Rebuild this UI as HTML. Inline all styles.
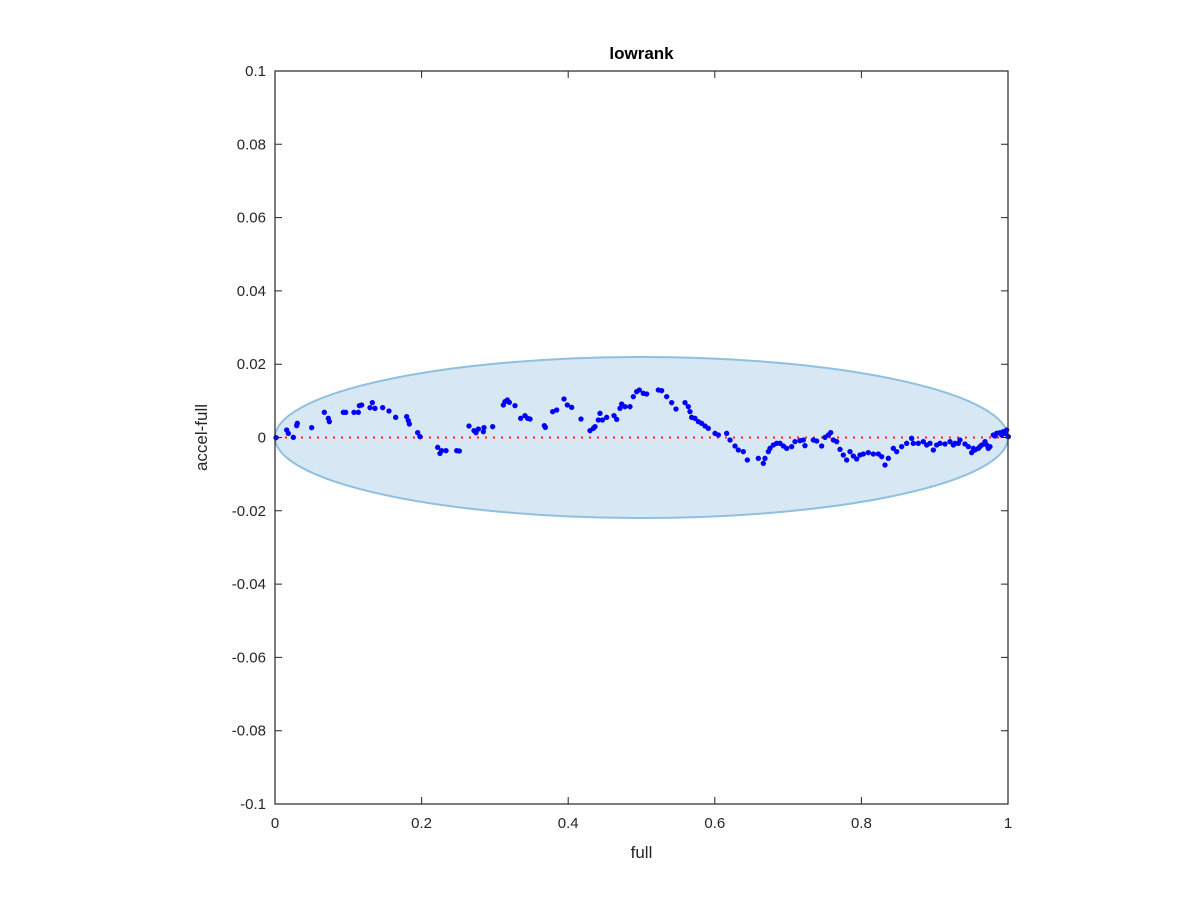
<!DOCTYPE html>
<html><head><style>body{margin:0;background:#fff}svg{display:block}text{font-family:"Liberation Sans",sans-serif;fill:#262626}</style></head><body>
<svg width="1200" height="900" xmlns="http://www.w3.org/2000/svg">
<rect width="1200" height="900" fill="#fff"/>
<ellipse cx="641.5" cy="437.5" rx="366.5" ry="80.5" fill="#d7e7f3" stroke="#8fc0e0" stroke-width="2"/>
<line x1="277" y1="437.5" x2="1008" y2="437.5" stroke="#ff2020" stroke-width="2" stroke-dasharray="2,6"/>
<g fill="#0000ff" transform="translate(270,380) scale(0.33333)">
<circle cx="18" cy="173" r="8"/><circle cx="50" cy="150" r="8"/><circle cx="55" cy="160" r="8"/><circle cx="70" cy="172" r="8"/><circle cx="82" cy="130" r="8"/><circle cx="80" cy="137" r="8"/><circle cx="125" cy="143" r="8"/><circle cx="163" cy="97" r="8"/><circle cx="175" cy="115" r="8"/><circle cx="178" cy="125" r="8"/><circle cx="220" cy="97" r="8"/><circle cx="227" cy="97" r="8"/><circle cx="252" cy="97" r="8"/><circle cx="265" cy="97" r="8"/><circle cx="268" cy="77" r="8"/><circle cx="275" cy="75" r="8"/><circle cx="300" cy="83" r="8"/><circle cx="307" cy="68" r="8"/><circle cx="315" cy="85" r="8"/><circle cx="338" cy="83" r="8"/><circle cx="357" cy="93" r="8"/><circle cx="377" cy="112" r="8"/><circle cx="410" cy="110" r="8"/><circle cx="415" cy="122" r="8"/><circle cx="418" cy="132" r="8"/><circle cx="443" cy="158" r="8"/><circle cx="450" cy="170" r="8"/><circle cx="503" cy="202" r="8"/><circle cx="510" cy="220" r="8"/><circle cx="515" cy="212" r="8"/><circle cx="528" cy="212" r="8"/><circle cx="560" cy="212" r="8"/><circle cx="568" cy="213" r="8"/><circle cx="597" cy="138" r="8"/><circle cx="612" cy="152" r="8"/><circle cx="618" cy="158" r="8"/><circle cx="625" cy="147" r="8"/><circle cx="640" cy="155" r="8"/><circle cx="642" cy="143" r="8"/><circle cx="668" cy="140" r="8"/><circle cx="700" cy="75" r="8"/><circle cx="705" cy="65" r="8"/><circle cx="712" cy="60" r="8"/><circle cx="718" cy="67" r="8"/><circle cx="735" cy="77" r="8"/><circle cx="752" cy="115" r="8"/><circle cx="765" cy="107" r="8"/><circle cx="773" cy="115" r="8"/><circle cx="780" cy="117" r="8"/><circle cx="823" cy="137" r="8"/><circle cx="826" cy="142" r="8"/><circle cx="848" cy="95" r="8"/><circle cx="860" cy="90" r="8"/><circle cx="882" cy="57" r="8"/><circle cx="892" cy="75" r="8"/><circle cx="905" cy="82" r="8"/><circle cx="933" cy="117" r="8"/><circle cx="960" cy="152" r="8"/><circle cx="970" cy="145" r="8"/><circle cx="975" cy="140" r="8"/><circle cx="985" cy="120" r="8"/><circle cx="990" cy="100" r="8"/><circle cx="997" cy="120" r="8"/><circle cx="1010" cy="112" r="8"/><circle cx="1032" cy="107" r="8"/><circle cx="1040" cy="118" r="8"/><circle cx="1050" cy="85" r="8"/><circle cx="1055" cy="72" r="8"/><circle cx="1065" cy="80" r="8"/><circle cx="1080" cy="80" r="8"/><circle cx="1090" cy="50" r="8"/><circle cx="1100" cy="35" r="8"/><circle cx="1108" cy="30" r="8"/>
</g>
<g fill="#0000ff" transform="translate(640,380) scale(0.33333)">
<circle cx="10" cy="40" r="8"/><circle cx="20" cy="42" r="8"/><circle cx="55" cy="30" r="8"/><circle cx="65" cy="32" r="8"/><circle cx="80" cy="50" r="8"/><circle cx="95" cy="68" r="8"/><circle cx="108" cy="87" r="8"/><circle cx="135" cy="68" r="8"/><circle cx="145" cy="80" r="8"/><circle cx="150" cy="95" r="8"/><circle cx="155" cy="112" r="8"/><circle cx="165" cy="115" r="8"/><circle cx="175" cy="125" r="8"/><circle cx="185" cy="130" r="8"/><circle cx="195" cy="138" r="8"/><circle cx="205" cy="145" r="8"/><circle cx="225" cy="160" r="8"/><circle cx="235" cy="165" r="8"/><circle cx="260" cy="160" r="8"/><circle cx="270" cy="180" r="8"/><circle cx="285" cy="198" r="8"/><circle cx="295" cy="210" r="8"/><circle cx="310" cy="215" r="8"/><circle cx="322" cy="240" r="8"/><circle cx="355" cy="235" r="8"/><circle cx="370" cy="250" r="8"/><circle cx="375" cy="235" r="8"/><circle cx="385" cy="215" r="8"/><circle cx="390" cy="205" r="8"/><circle cx="400" cy="195" r="8"/><circle cx="410" cy="190" r="8"/><circle cx="420" cy="190" r="8"/><circle cx="430" cy="198" r="8"/><circle cx="440" cy="205" r="8"/><circle cx="455" cy="200" r="8"/><circle cx="465" cy="185" r="8"/><circle cx="480" cy="182" r="8"/><circle cx="490" cy="180" r="8"/><circle cx="495" cy="197" r="8"/><circle cx="520" cy="180" r="8"/><circle cx="530" cy="183" r="8"/><circle cx="545" cy="198" r="8"/><circle cx="555" cy="172" r="8"/><circle cx="565" cy="165" r="8"/><circle cx="572" cy="158" r="8"/><circle cx="580" cy="180" r="8"/><circle cx="590" cy="185" r="8"/><circle cx="600" cy="208" r="8"/><circle cx="610" cy="225" r="8"/><circle cx="620" cy="240" r="8"/><circle cx="630" cy="215" r="8"/><circle cx="640" cy="228" r="8"/><circle cx="650" cy="237" r="8"/><circle cx="660" cy="225" r="8"/><circle cx="670" cy="222" r="8"/><circle cx="685" cy="218" r="8"/><circle cx="700" cy="222" r="8"/><circle cx="715" cy="222" r="8"/><circle cx="725" cy="230" r="8"/><circle cx="735" cy="255" r="8"/><circle cx="745" cy="235" r="8"/><circle cx="760" cy="205" r="8"/><circle cx="770" cy="215" r="8"/><circle cx="785" cy="200" r="8"/><circle cx="800" cy="190" r="8"/><circle cx="815" cy="175" r="8"/><circle cx="820" cy="190" r="8"/><circle cx="835" cy="190" r="8"/><circle cx="850" cy="185" r="8"/><circle cx="860" cy="195" r="8"/><circle cx="870" cy="190" r="8"/><circle cx="880" cy="210" r="8"/><circle cx="890" cy="195" r="8"/><circle cx="900" cy="190" r="8"/><circle cx="915" cy="192" r="8"/><circle cx="930" cy="185" r="8"/><circle cx="945" cy="190" r="8"/><circle cx="960" cy="180" r="8"/><circle cx="975" cy="192" r="8"/><circle cx="985" cy="200" r="8"/><circle cx="995" cy="218" r="8"/><circle cx="1005" cy="210" r="8"/><circle cx="1015" cy="205" r="8"/><circle cx="1025" cy="195" r="8"/><circle cx="1035" cy="185" r="8"/><circle cx="1045" cy="205" r="8"/><circle cx="1050" cy="200" r="8"/><circle cx="1060" cy="165" r="8"/><circle cx="1070" cy="160" r="8"/><circle cx="1080" cy="158" r="8"/><circle cx="1090" cy="155" r="8"/><circle cx="1100" cy="150" r="8"/><circle cx="1105" cy="170" r="8"/>
<circle cx="940" cy="195" r="8"/><circle cx="955" cy="190" r="8"/><circle cx="1000" cy="205" r="8"/><circle cx="1020" cy="200" r="8"/><circle cx="1040" cy="195" r="8"/><circle cx="1065" cy="168" r="8"/><circle cx="1085" cy="165" r="8"/><circle cx="1095" cy="160" r="8"/>
</g>
<rect x="275" y="71" width="733" height="733" fill="none" stroke="#262626" stroke-width="1.2"/>
<g stroke="#262626" stroke-width="1">
<path d="M275,804v-7M421.6,804v-7M568.2,804v-7M714.8,804v-7M861.4,804v-7M1008,804v-7M275,71v7M421.6,71v7M568.2,71v7M714.8,71v7M861.4,71v7M1008,71v7"/>
<path d="M275,71h7M275,144.3h7M275,217.6h7M275,290.9h7M275,364.2h7M275,437.5h7M275,510.8h7M275,584.1h7M275,657.4h7M275,730.7h7M275,804h7M1008,71h-7M1008,144.3h-7M1008,217.6h-7M1008,290.9h-7M1008,364.2h-7M1008,437.5h-7M1008,510.8h-7M1008,584.1h-7M1008,657.4h-7M1008,730.7h-7M1008,804h-7"/>
</g>
<g font-size="15" text-anchor="middle">
<text x="275" y="828">0</text><text x="421.6" y="828">0.2</text><text x="568.2" y="828">0.4</text><text x="714.8" y="828">0.6</text><text x="861.4" y="828">0.8</text><text x="1008" y="828">1</text>
</g>
<g font-size="15" text-anchor="end">
<text x="266" y="76">0.1</text><text x="266" y="149.3">0.08</text><text x="266" y="222.6">0.06</text><text x="266" y="295.9">0.04</text><text x="266" y="369.2">0.02</text><text x="266" y="442.5">0</text><text x="266" y="515.8">-0.02</text><text x="266" y="589.1">-0.04</text><text x="266" y="662.4">-0.06</text><text x="266" y="735.7">-0.08</text><text x="266" y="809">-0.1</text>
</g>
<text x="641.5" y="858" font-size="17" text-anchor="middle">full</text>
<text transform="translate(207,437.5) rotate(-90)" font-size="17" text-anchor="middle">accel-full</text>
<text x="641.5" y="59" font-size="17" font-weight="bold" text-anchor="middle" style="fill:#000">lowrank</text>
</svg>
</body></html>
